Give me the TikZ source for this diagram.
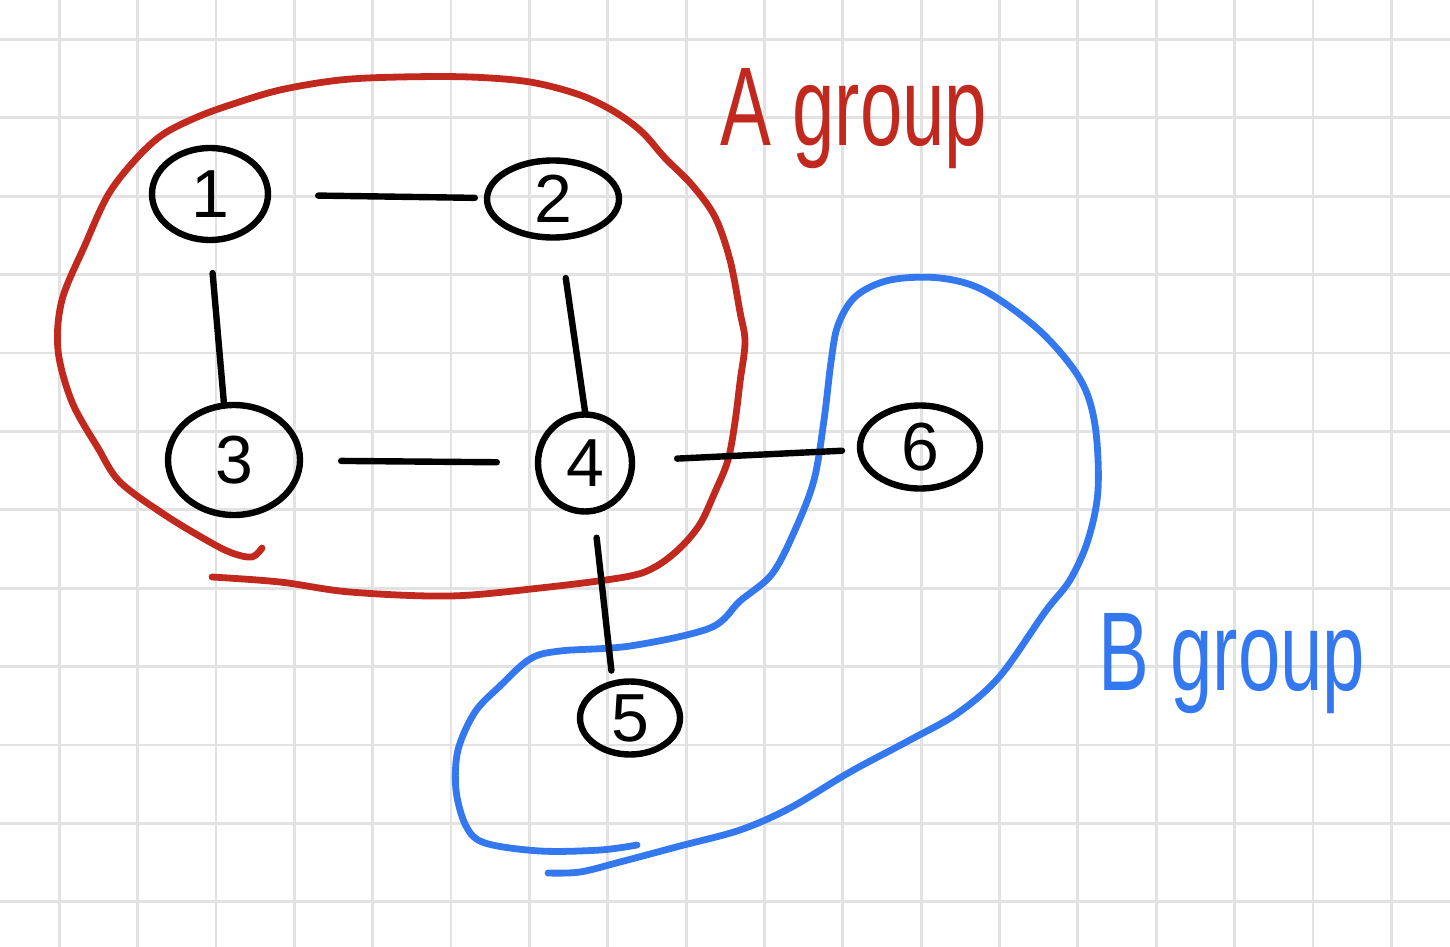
\documentclass[tikz,border=0pt]{standalone}
\usepackage{fontspec}
\setmainfont{Liberation Sans}
\usetikzlibrary{shapes.geometric}
\definecolor{redc}{HTML}{C1291F}
\definecolor{bluec}{HTML}{3478F0}
\definecolor{gridc}{HTML}{E2E2E2}
\begin{document}
\begin{tikzpicture}[x=0.5pt,y=-0.5pt,
  gridline/.style={draw=gridc, line width=1.4pt},
  vertex/.style={ellipse, draw=black, line width=3.2pt, inner sep=0pt, text depth=0pt,
    font=\fontsize{34}{34}\selectfont},
  link/.style={draw=black, line width=3.2pt, line cap=round},
  agroup/.style={draw=redc, line width=3.4pt, line cap=round, line join=round},
  bgroup/.style={draw=bluec, line width=3.4pt, line cap=round, line join=round},
  grouplabel/.style={anchor=base west, inner sep=0pt, font=\fontsize{56}{56}\selectfont}
]
\useasboundingbox (0,0) rectangle (1450,947);
\fill[white] (0,0) rectangle (1450,947);
% grid
\foreach \i in {0,...,17} \draw[gridline] ({59.3+78.35*\i},0) -- ++(0,947);
\foreach \j in {0,...,11} \draw[gridline] (0,{39.3+78.4*\j}) -- ++(1450,0);

% group A contour
\draw[agroup] plot[smooth, tension=0.55] coordinates {
  (262,548) (252,557) (232,553) (208,541) (165,515) (120,482) (98,448) (72,402)
  (58,350) (62,300) (85,245) (108,195) (135,160) (162,135) (195,118) (230,105)
  (280,90) (340,80) (400,77) (470,77) (530,82) (580,95) (615,112) (642,132)
  (665,158) (692,185) (715,217) (730,260) (740,312) (745,342) (740,382) (735,422)
  (728,460) (715,492) (700,524) (680,548) (655,567) (625,577) (540,588)
  (450,596) (350,592) (280,582) (212,577)};

% group B contour
\draw[bgroup] plot[smooth, tension=0.55] coordinates {
  (637,845) (600,850) (540,851) (485,843) (466,826) (456,790) (458,750) (475,712)
  (500,686) (530,659) (560,651) (630,646) (710,628) (740,601) (772,574) (795,530)
  (814,480) (824,420) (831,362) (838,325) (856,296) (890,280) (940,278)
  (985,291) (1040,331) (1080,379) (1095,425) (1098,490) (1088,540) (1070,580)
  (1045,612) (1000,676) (958,713) (910,740) (850,772) (790,808) (740,830)
  (680,846) (620,862) (580,872) (548,873)};

% nodes
\node[vertex, minimum width=58pt, minimum height=46pt] (n1) at (210,194) {1};
\node[vertex, minimum width=66pt, minimum height=38.5pt] (n2) at (553,199) {2};
\node[vertex, minimum width=66pt, minimum height=55pt] (n3) at (234,460) {3};
\node[vertex, minimum width=47pt, minimum height=48.5pt] (n4) at (585,463) {4};
\node[vertex, minimum width=50pt, minimum height=36.5pt] (n5) at (630,718) {5};
\node[vertex, minimum width=60pt, minimum height=41.5pt] (n6) at (920,447) {6};

% edges
\draw[link, shorten <=23.5pt, shorten >=4.5pt] (n1) -- (n2);
\draw[link, shorten <=15pt] (n1.south) -- (n3.100);
\draw[link, shorten <=19pt] (n2.280) -- (n4.north);
\draw[link, shorten <=19pt, shorten >=19pt] (n3) -- (n4);
\draw[link, shorten <=21pt, shorten >=7.5pt] (n4) -- (n6);
\draw[link, shorten <=12pt, shorten >=5pt] (n4.280) -- (n5.115);

% labels
\node[grouplabel, text=redc] (la) at (720,145) {\scalebox{0.68}[1]{A group}};
\node[grouplabel, text=bluec] (lb) at (1098,690) {\scalebox{0.68}[1]{B group}};
\end{tikzpicture}
\end{document}
